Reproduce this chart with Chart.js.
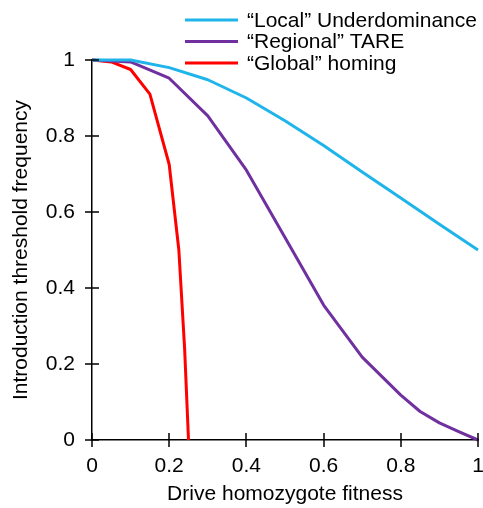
<!DOCTYPE html>
<html>
<head>
<meta charset="utf-8">
<script src="https://cdn.jsdelivr.net/npm/chart.js@4"></script>
<style>
  html, body { margin: 0; padding: 0; background: #fff; }
  #wrap { width: 483px; height: 508px; position: relative; }
</style>
</head>
<body>
<div id="wrap"><canvas id="thresholdChart"></canvas></div>
<script>
// x values (drive homozygote fitness) for each curve
const localFitness = [0, 0.1, 0.2, 0.3, 0.4, 0.5, 0.6, 0.7, 0.8, 0.9, 1];
const localThreshold = [1, 1, 0.98, 0.948, 0.9, 0.84, 0.775, 0.705, 0.637, 0.568, 0.5];

const regionalFitness = [0, 0.1, 0.2, 0.3, 0.4, 0.5, 0.6, 0.7, 0.8, 0.85, 0.9, 0.95, 1];
const regionalThreshold = [1, 0.995, 0.952, 0.853, 0.71, 0.533, 0.355, 0.218, 0.118, 0.075, 0.045, 0.022, 0];

const globalFitness = [0, 0.05, 0.1, 0.15, 0.2, 0.225, 0.24, 0.25];
const globalThreshold = [1, 0.995, 0.975, 0.91, 0.725, 0.5, 0.24, 0];

const seriesLabels = ['\u201cLocal\u201d Underdominance', '\u201cRegional\u201d TARE', '\u201cGlobal\u201d homing'];
const seriesColors = ['#1fb4ea', '#7030a0', '#ff0000'];

const xTicks = [0, 0.2, 0.4, 0.6, 0.8, 1];
const yTicks = [0, 0.2, 0.4, 0.6, 0.8, 1];

const FONT = '"Liberation Sans", Arial, Helvetica, sans-serif';
const FONT_SIZE = 21;

function toPoints(xs, ys) {
  return xs.map((x, i) => ({ x: x, y: ys[i] }));
}

// tick marks that cross the axis line on both sides
const crossTicks = {
  id: 'crossTicks',
  afterDraw(chart) {
    const ctx = chart.ctx;
    const area = chart.chartArea;
    const xs = chart.scales.x;
    const ys = chart.scales.y;
    ctx.save();
    ctx.strokeStyle = '#000';
    ctx.lineWidth = 1.5;
    ctx.beginPath();
    xTicks.forEach((v) => {
      const px = Math.round(xs.getPixelForValue(v));
      ctx.moveTo(px, area.bottom - 7);
      ctx.lineTo(px, area.bottom + 7);
    });
    yTicks.forEach((v) => {
      const py = Math.round(ys.getPixelForValue(v));
      ctx.moveTo(area.left - 7, py);
      ctx.lineTo(area.left + 7, py);
    });
    ctx.stroke();
    ctx.restore();
  }
};

// legend in the top right corner
const cornerLegend = {
  id: 'cornerLegend',
  afterDraw(chart) {
    const ctx = chart.ctx;
    ctx.save();
    ctx.font = FONT_SIZE + 'px ' + FONT;
    ctx.textBaseline = 'middle';
    ctx.fillStyle = '#000';
    chart.data.datasets.forEach((ds, i) => {
      const y = 20 + i * 21.5;
      ctx.strokeStyle = ds.borderColor;
      ctx.lineWidth = 3;
      ctx.beginPath();
      ctx.moveTo(185, y);
      ctx.lineTo(238, y);
      ctx.stroke();
      ctx.fillText(ds.label, 247, y + 1);
    });
    ctx.restore();
  }
};

const canvas = document.getElementById('thresholdChart');
new Chart(canvas, {
  type: 'line',
  data: {
    datasets: [
      { label: seriesLabels[0], data: toPoints(localFitness, localThreshold), borderColor: seriesColors[0] },
      { label: seriesLabels[1], data: toPoints(regionalFitness, regionalThreshold), borderColor: seriesColors[1] },
      { label: seriesLabels[2], data: toPoints(globalFitness, globalThreshold), borderColor: seriesColors[2] }
    ]
  },
  options: {
    responsive: true,
    maintainAspectRatio: false,
    animation: false,
    layout: { padding: { top: 60, right: 5, bottom: 0, left: 0 } },
    elements: {
      line: { borderWidth: 3, tension: 0, borderJoinStyle: 'round' },
      point: { radius: 0 }
    },
    datasets: { line: { clip: 6 } },
    plugins: { legend: { display: false }, tooltip: { enabled: false } },
    scales: {
      x: {
        type: 'linear',
        min: 0,
        max: 1,
        afterBuildTicks: (scale) => { scale.ticks = xTicks.map((v) => ({ value: v })); },
        afterFit: (scale) => {
          scale.height = 68;
          scale.paddingLeft = 0;
          scale.paddingRight = 0;
        },
        grid: { display: true, drawOnChartArea: false, drawTicks: false },
        border: { display: true, color: '#000', width: 1.5 },
        ticks: {
          color: '#000',
          font: { family: FONT, size: FONT_SIZE },
          padding: 14,
          maxRotation: 0,
          callback: (v) => String(v)
        },
        title: {
          display: true,
          text: 'Drive homozygote fitness',
          color: '#000',
          font: { family: FONT, size: FONT_SIZE },
          padding: { top: 0, bottom: 1 }
        }
      },
      y: {
        type: 'linear',
        min: 0,
        max: 1,
        afterBuildTicks: (scale) => { scale.ticks = yTicks.map((v) => ({ value: v })); },
        afterFit: (scale) => {
          scale.width = 92;
          scale.paddingTop = 0;
          scale.paddingBottom = 0;
        },
        grid: { display: true, drawOnChartArea: false, drawTicks: false },
        border: { display: true, color: '#000', width: 1.5 },
        ticks: {
          color: '#000',
          font: { family: FONT, size: FONT_SIZE },
          padding: 17,
          callback: (v) => String(v)
        },
        title: {
          display: true,
          text: 'Introduction threshold frequency',
          color: '#000',
          font: { family: FONT, size: FONT_SIZE },
          padding: { top: 9, bottom: 0 }
        }
      }
    }
  },
  plugins: [crossTicks, cornerLegend]
});
</script>
</body>
</html>
